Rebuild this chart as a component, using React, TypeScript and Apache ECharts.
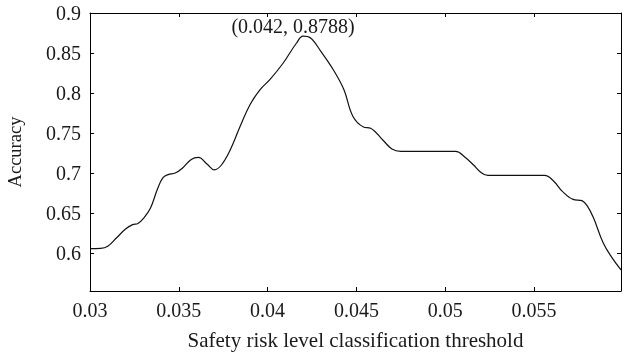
import React, { useEffect, useRef } from "react";
import * as echarts from "echarts";

const thresholds = [
  0.0300, 0.0306, 0.0310, 0.0315, 0.0320, 0.0324, 0.0327, 0.0330, 0.0334, 0.0338,
  0.0341, 0.0344, 0.0348, 0.0352, 0.0357, 0.0361, 0.0366, 0.0370, 0.0374, 0.0379,
  0.03845, 0.0390, 0.03957, 0.04014, 0.04088, 0.04163, 0.0420, 0.0424, 0.0430, 0.0437,
  0.0443, 0.0448, 0.0454, 0.0458, 0.0465, 0.0470, 0.0475, 0.0490, 0.0506, 0.0511,
  0.0516, 0.0520, 0.0524, 0.0540, 0.0556, 0.0561, 0.0566, 0.0572, 0.0577, 0.0580,
  0.05835, 0.0589, 0.0594, 0.0599,
];
const accuracy = [
  0.6055, 0.6058, 0.6085, 0.6190, 0.6300, 0.6355, 0.6370, 0.6430, 0.6560, 0.6800,
  0.6940, 0.6980, 0.7000, 0.7060, 0.7170, 0.7195, 0.7110, 0.7040, 0.7100, 0.7290,
  0.7580, 0.7850, 0.8040, 0.8170, 0.8375, 0.8625, 0.8710, 0.8690, 0.8520, 0.8290,
  0.8040, 0.7710, 0.7575, 0.7560, 0.7410, 0.7300, 0.7270, 0.7270, 0.7270, 0.7200,
  0.7100, 0.7010, 0.6970, 0.6970, 0.6970, 0.6900, 0.6770, 0.6670, 0.6654, 0.6590,
  0.6440, 0.6125, 0.5940, 0.5790,
];
const xTicks = [0.03, 0.035, 0.04, 0.045, 0.05, 0.055];
const yTicks = [0.6, 0.65, 0.7, 0.75, 0.8, 0.85, 0.9];
const peak = [0.042, 0.871];
const peakLabel = "(0.042, 0.8788)";

const FONT = "'Liberation Serif', 'DejaVu Serif', serif";
const TEXT = "#1a1a1a";

export default function App() {
  const ref = useRef<HTMLDivElement>(null);
  useEffect(() => {
    if (!ref.current) return;
    const chart = echarts.init(ref.current, undefined, { renderer: "svg" });
    const xMin = 0.03, xMax = 0.0599, yMin = 0.5525, yMax = 0.9;
    const axisCommon = {
      axisLine: { show: true, onZero: false, lineStyle: { color: "#000", width: 1 } },
      splitLine: { show: false },
    };
    const fmt = (v: number) => String(parseFloat(v.toFixed(4)));
    chart.setOption({
      animation: false,
      grid: { left: 90, right: 8, top: 13, bottom: 65, containLabel: false, outerBoundsMode: "none" },
      xAxis: [
        {
          type: "value", min: xMin, max: xMax, position: "bottom",
          ...axisCommon,
          axisTick: { show: true, inside: true, length: 4, customValues: xTicks, lineStyle: { color: "#000" } },
          axisLabel: { show: true, customValues: xTicks, formatter: fmt, color: TEXT, fontFamily: FONT, fontSize: 20, margin: 9 },
          name: "Safety risk level classification threshold",
          nameLocation: "middle", nameGap: 38,
          nameTextStyle: { color: TEXT, fontFamily: FONT, fontSize: 21 },
        },
        {
          type: "value", min: xMin, max: xMax, position: "top",
          ...axisCommon,
          axisTick: { show: true, inside: true, length: 4, customValues: xTicks, lineStyle: { color: "#000" } },
          axisLabel: { show: false },
        },
      ],
      yAxis: [
        {
          type: "value", min: yMin, max: yMax, position: "left",
          ...axisCommon,
          axisTick: { show: true, inside: true, length: 4, customValues: yTicks, lineStyle: { color: "#000" } },
          axisLabel: { show: true, customValues: yTicks, formatter: fmt, color: TEXT, fontFamily: FONT, fontSize: 20, margin: 9 },
          name: "Accuracy", nameLocation: "middle", nameGap: 66, nameRotate: 90,
          nameTextStyle: { color: TEXT, fontFamily: FONT, fontSize: 18.5 },
        },
        {
          type: "value", min: yMin, max: yMax, position: "right",
          ...axisCommon,
          axisTick: { show: true, inside: true, length: 4, customValues: yTicks, lineStyle: { color: "#000" } },
          axisLabel: { show: false },
        },
      ],
      series: [
        {
          type: "line",
          data: thresholds.map((x, i) => [x, accuracy[i]]),
          smooth: 0.4,
          symbol: "none",
          lineStyle: { color: "#111", width: 1.2 },
          markPoint: {
            symbol: "circle",
            symbolSize: 0,
            data: [{ coord: peak }],
            label: {
              show: true,
              formatter: peakLabel,
              position: "top",
              offset: [-10, 5],
              color: TEXT,
              fontFamily: FONT,
              fontSize: 20,
            },
          },
        },
      ],
    });
    return () => chart.dispose();
  }, []);
  return <div ref={ref} style={{ position: "fixed", left: 0, top: 0, width: 629, height: 356 }} />;
}
